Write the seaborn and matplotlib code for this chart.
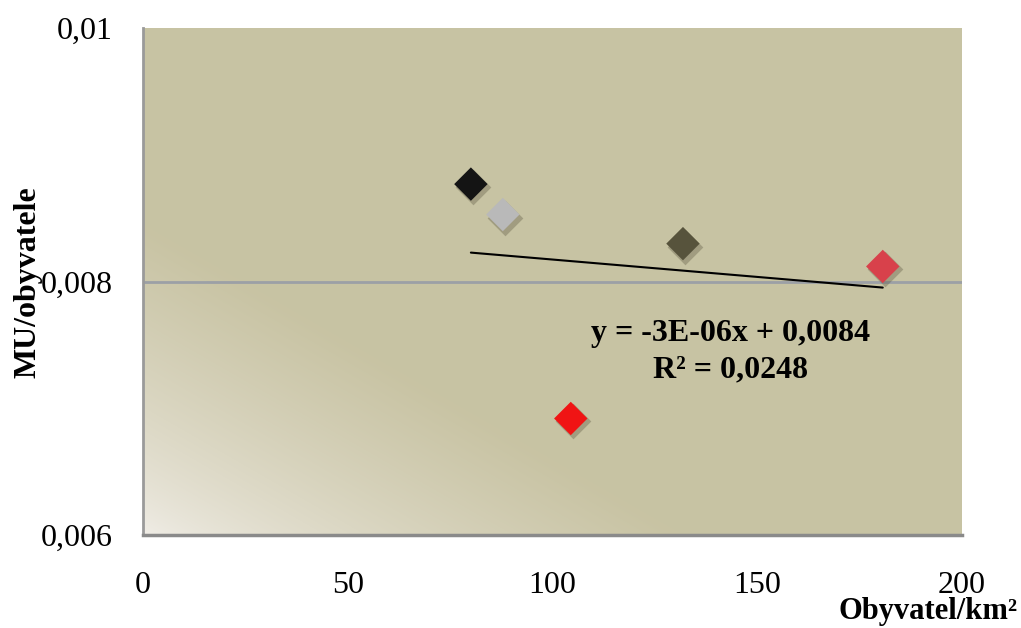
import numpy as np
import pandas as pd
import seaborn as sns
import matplotlib.pyplot as plt
import matplotlib.transforms as mtransforms
from matplotlib.ticker import FuncFormatter
from matplotlib.colors import LinearSegmentedColormap

# data
hustota = [80.1, 87.9, 131.9, 180.7, 104.5]          # Obyvatel/km²
mu_na_obyv = [0.00877, 0.00853, 0.00830, 0.00812, 0.00692]
body = ["A", "B", "C", "D", "E"]
barvy = ["#141414", "#b9b9b9", "#57533c", "#d8414b", "#f01414"]

x_ticks = [0, 50, 100, 150, 200]
y_ticks = [0.006, 0.008, 0.01]

df = pd.DataFrame({"x": hustota, "y": mu_na_obyv, "bod": body})

sns.set_style("white")
plt.rcParams["font.family"] = ["Liberation Serif", "DejaVu Serif"]
plt.rcParams["text.color"] = "black"
plt.rcParams["xtick.labelcolor"] = "black"
plt.rcParams["ytick.labelcolor"] = "black"

fig = plt.figure(figsize=(10.21, 6.28), dpi=100)
ax = fig.add_axes([0.140, 0.148, 0.802, 0.807])
ax.set_facecolor("none")

# gradient pozadi (svetly levy dolni roh)
w, h = 819, 507
px, py = np.meshgrid(np.arange(w), np.arange(h)[::-1])
t = (0.5 * px + 0.87 * py) / 270.0
t = np.clip(t, 0, 1) ** 0.7
cmap = LinearSegmentedColormap.from_list("bg", ["#f1eee8", "#c8c3a3"])
ax.imshow(t, cmap=cmap, vmin=0, vmax=1, extent=[0, 200, 0.006, 0.01],
          aspect="auto", origin="upper", zorder=0)

ax.set_xlim(0, 200)
ax.set_ylim(0.006, 0.01)
ax.set_xticks(x_ticks)
ax.set_yticks(y_ticks)
ax.yaxis.set_major_formatter(FuncFormatter(lambda v, p: f"{v:g}".replace(".", ",")))
ax.xaxis.set_major_formatter(FuncFormatter(lambda v, p: f"{v:g}"))

ax.grid(False)
ax.axhline(0.008, color="#9ca0a6", linewidth=2, zorder=1)

for s in ["top", "right"]:
    ax.spines[s].set_visible(False)
ax.spines["left"].set_color("#9a9a9a")
ax.spines["left"].set_linewidth(2)
ax.spines["bottom"].set_color("#8a8a8a")
ax.spines["bottom"].set_linewidth(2.5)
ax.tick_params(axis="both", direction="out", length=7, width=1.5,
               color="#9a9a9a", labelsize=23, labelcolor="black")
ax.tick_params(axis="y", pad=15)
ax.tick_params(axis="x", pad=19)

# stiny znacek
stin = mtransforms.offset_copy(ax.transData, fig=fig, x=2, y=-3, units="dots")
ax.scatter(df["x"], df["y"], marker="D", s=330, color="#5a5540", alpha=0.35,
           linewidths=0, transform=stin, zorder=3)

sns.scatterplot(data=df, x="x", y="y", hue="bod", palette=barvy, marker="D",
                s=290, edgecolor="none", legend=False, ax=ax, zorder=4)

# linearni trend
sns.regplot(data=df, x="x", y="y", scatter=False, ci=None, truncate=True,
            line_kws={"color": "black", "linewidth": 1.5, "zorder": 3}, ax=ax)

ax.set_xlabel("")
ax.set_ylabel("")
fig.text(1018 / 1021, 1 - 612 / 628, "Obyvatel/km²", ha="right", va="center",
         fontsize=22, fontweight="bold", color="black")
fig.text(28 / 1021, 1 - 282 / 628, "MU/obyvatele", ha="center", va="center",
         rotation=90, fontsize=23, fontweight="bold", color="black")

fig.text(731 / 1021, 1 - 333 / 628, "y = -3E-06x + 0,0084", ha="center",
         va="center", fontsize=23, fontweight="bold", color="black")
fig.text(731 / 1021, 1 - 370 / 628, "R² = 0,0248", ha="center",
         va="center", fontsize=23, fontweight="bold", color="black")

fig.savefig("out.png", dpi=100)
